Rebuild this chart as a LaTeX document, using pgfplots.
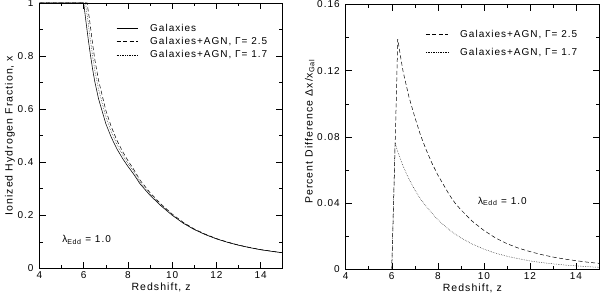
\documentclass[border=0pt]{standalone}
\usepackage{fontspec}
\setmainfont{Liberation Sans}[LetterSpace=10]
\usepackage{pgfplots}
\pgfplotsset{compat=1.18}

\pgfplotstableread{
z x
4 1
6 1
6.1 0.931
6.2 0.866
6.3 0.806
6.4 0.752
6.5 0.704
6.67 0.639
7.0 0.545
7.25 0.493
7.5 0.450
7.78 0.411
8.0 0.384
8.25 0.356
8.55 0.318
9.0 0.275
9.5 0.235
10 0.200
10.5 0.170
11 0.146
11.5 0.127
12 0.111
12.5 0.098
13 0.087
13.5 0.078
14 0.070
14.5 0.064
15 0.0585
}\galtab

\pgfplotstableread{
z x
4 1
6.15 1
6.25 0.945
6.3 0.913
6.4 0.8475
6.5 0.7878
6.67 0.7087
7.0 0.5951
7.25 0.5329
7.5 0.4824
7.78 0.4369
8.0 0.4059
8.25 0.3742
8.55 0.3320
9.0 0.2849
9.5 0.2418
10 0.2047
10.5 0.1732
11 0.1483
11.5 0.1286
12 0.1122
12.5 0.0989
13 0.0876
13.5 0.0785
14 0.0704
14.5 0.0643
15 0.0587
}\agnAtab

\pgfplotstableread{
z x
4 1
6.08 1
6.2 0.928
6.3 0.861
6.4 0.800
6.5 0.7476
6.67 0.6754
7.0 0.5712
7.25 0.5140
7.5 0.4671
7.78 0.4247
8.0 0.3955
8.25 0.3655
8.55 0.3255
9.0 0.2802
9.5 0.2386
10 0.2024
10.5 0.1717
11 0.1472
11.5 0.1278
12 0.1116
12.5 0.0984
13 0.0873
13.5 0.0782
14 0.0701
14.5 0.0641
15 0.0586
}\agnBtab

\pgfplotstableread{
z d
4 0
6 0
6.1 0.0511
6.2 0.1042
6.26 0.1390
6.4 0.1270
6.5 0.1190
6.75 0.1040
7.0 0.0920
7.25 0.0810
7.5 0.0720
7.75 0.0640
8.0 0.0570
8.25 0.0510
8.5 0.0450
8.75 0.0400
9.0 0.0360
9.5 0.0290
10 0.0235
10.5 0.0190
11 0.0155
11.5 0.0128
12 0.0107
12.5 0.0089
13 0.0074
13.5 0.0062
14 0.0052
14.5 0.0043
15 0.0036
}\diffAtab

\pgfplotstableread{
z d
4 0
6 0
6.1 0.0511
6.145 0.0765
6.25 0.0715
6.5 0.0620
6.75 0.0545
7.0 0.0480
7.25 0.0425
7.5 0.0380
7.75 0.0338
8.0 0.0300
8.25 0.0268
8.5 0.0238
8.75 0.0213
9.0 0.0190
9.5 0.0152
10 0.0122
10.5 0.0098
11 0.0079
11.5 0.0064
12 0.0051
12.5 0.0041
13 0.0033
13.5 0.0026
14 0.0021
14.5 0.0016
15 0.0012
}\diffBtab

\pgfplotsset{pg/.style={
  scale only axis,
  xmin=4, xmax=15, xtick={4,6,8,10,12,14}, minor x tick num=1,
  tick align=inside, tick pos=both,
  major tick length=6.5pt, minor tick length=3.3pt,
  every tick/.style={black, line width=0.5pt},
  axis line style={line width=0.5pt},
  tick label style={font=\fontsize{10}{12}\selectfont},
  label style={font=\fontsize{10.5}{12}\selectfont},
  /pgf/number format/assume math mode=true,
  scaled ticks=false,
  yticklabel style={xshift=-2.5pt},
  xlabel={Redshift, z},
  xlabel style={at={(axis description cs:0.5,0)}, anchor=center, yshift=-19.5pt},
}}
\tikzset{
  dsh/.style={black, line width=0.5pt, dash pattern=on 4pt off 2.5pt},
  dot/.style={black, line width=0.5pt, dash pattern=on 0.5pt off 1.2pt},
  sol/.style={black, line width=0.55pt},
  txt/.style={anchor=west, inner sep=0pt, font=\fontsize{10}{12}\selectfont},
}

\begin{document}
\begin{tikzpicture}[x=1pt,y=1pt]
\useasboundingbox (0,0) rectangle (600,296);
\begin{axis}[pg,
  at={(39.5pt,27.7pt)}, anchor=south west,
  width=243.2pt, height=265.3pt,
  ymin=0, ymax=1, ytick={0,0.2,0.4,0.6,0.8,1}, yticklabels={0,0.2,0.4,0.6,0.8,1},
  minor y tick num=1,
  ylabel={Ionized Hydrogen Fraction, x},
  ylabel style={at={(axis description cs:-0.1213,0.5)}, anchor=center},
]
\addplot[sol] table[x=z,y=x] {\galtab};
\addplot[dsh] table[x=z,y=x] {\agnAtab};
\addplot[dot] table[x=z,y=x] {\agnBtab};
\draw[sol] (rel axis cs:0.3174,0.9046) -- (rel axis cs:0.4062,0.9046);
\draw[dsh] (rel axis cs:0.3174,0.8541) -- (rel axis cs:0.4062,0.8541);
\draw[dot] (rel axis cs:0.3174,0.8040) -- (rel axis cs:0.4062,0.8040);
\node[txt] at (rel axis cs:0.4544,0.9046) {Galaxies};
\node[txt] at (rel axis cs:0.4544,0.8541) {Galaxies+AGN, Γ= 2.5};
\node[txt] at (rel axis cs:0.4544,0.8040) {Galaxies+AGN, Γ= 1.7};
\node[txt] at (axis cs:5.02,0.107) {λ\textsubscript{Edd} = 1.0};
\end{axis}

\begin{axis}[pg,
  at={(345.7pt,26.7pt)}, anchor=south west,
  width=253.3pt, height=264.8pt,
  ymin=0, ymax=0.16, ytick={0,0.04,0.08,0.12,0.16}, yticklabels={0,0.04,0.08,0.12,0.16},
  minor y tick num=1,
  ylabel={Percent Difference Δx/x\textsubscript{Gal}},
  ylabel style={at={(axis description cs:-0.142,0.52)}, anchor=center},
]
\addplot[dsh] table[x=z,y=d] {\diffAtab};
\addplot[dot] table[x=z,y=d] {\diffBtab};
\draw[dsh] (rel axis cs:0.317,0.886) -- (rel axis cs:0.405,0.886);
\draw[dot] (rel axis cs:0.317,0.820) -- (rel axis cs:0.405,0.820);
\node[txt] at (rel axis cs:0.4513,0.886) {Galaxies+AGN, Γ= 2.5};
\node[txt] at (rel axis cs:0.4513,0.820) {Galaxies+AGN, Γ= 1.7};
\node[txt] at (axis cs:9.74,0.041) {λ\textsubscript{Edd} = 1.0};
\end{axis}
\end{tikzpicture}
\end{document}
